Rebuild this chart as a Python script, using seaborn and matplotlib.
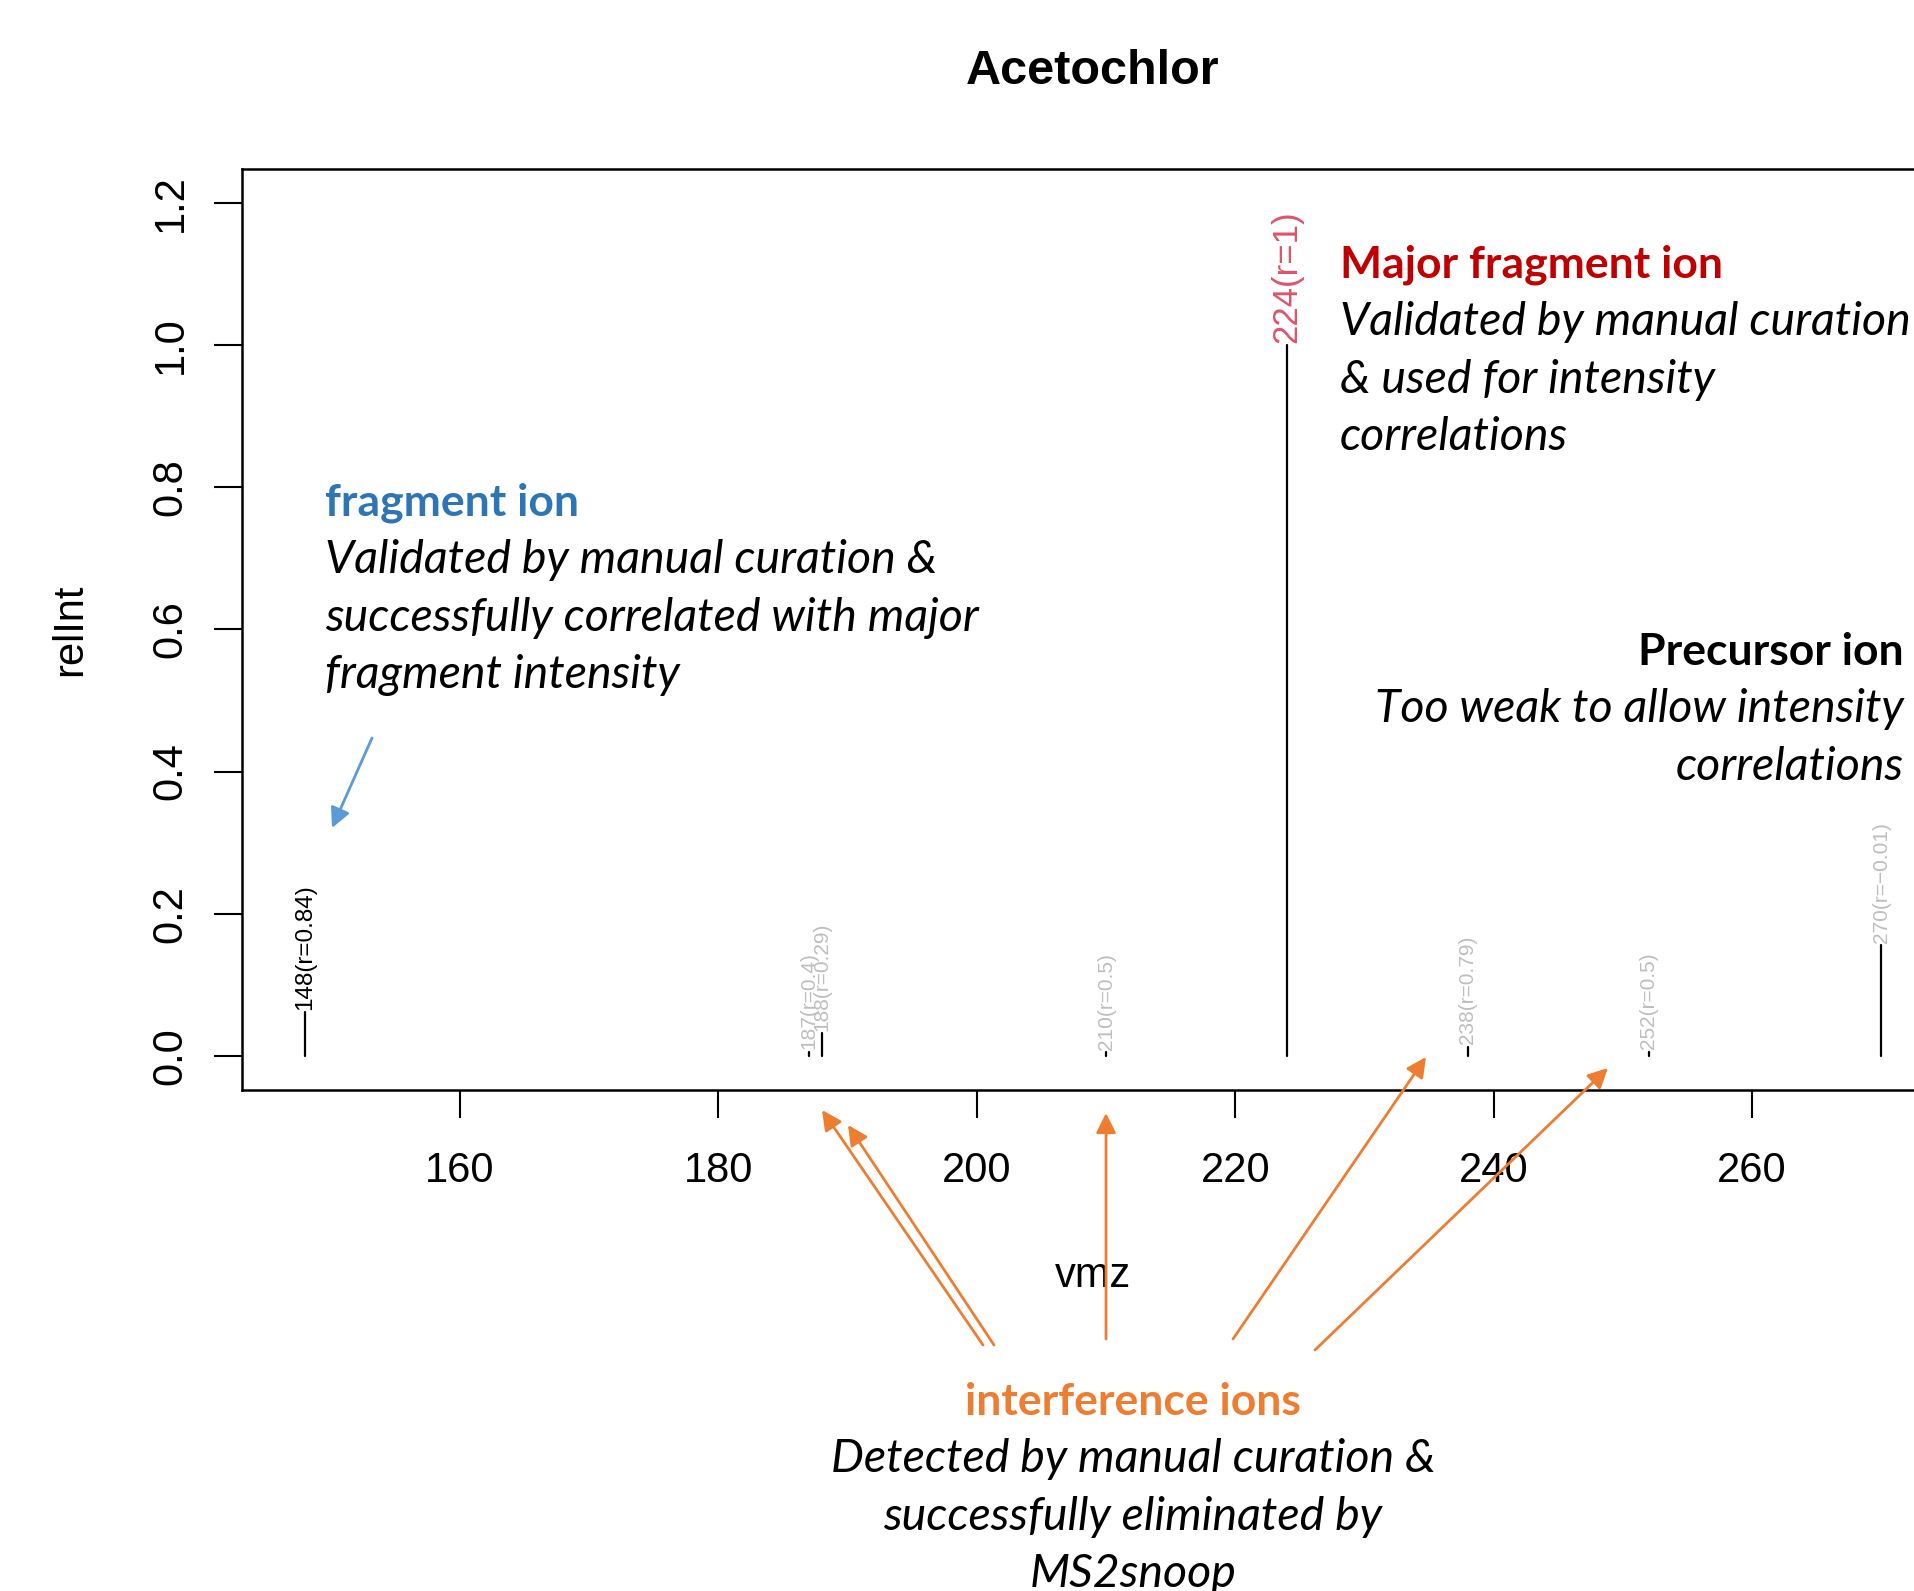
import matplotlib
matplotlib.use("Agg")
import pandas as pd
import matplotlib.pyplot as plt
import seaborn as sns

# MS2 peaks for Acetochlor (m/z, relative intensity, correlation with major fragment)
mz = [148, 187, 188, 210, 224, 238, 252, 270]
rel_int = [0.062, 0.006, 0.032, 0.005, 1.0, 0.013, 0.006, 0.156]
corr = ['0.84', '0.4', '0.29', '0.5', '1', '0.79', '0.5', '\u22120.01']
role = ['fragment', 'interference', 'interference', 'interference',
        'major', 'interference', 'interference', 'precursor']

x_ticks = [160, 180, 200, 220, 240, 260]
y_ticks = [0.0, 0.2, 0.4, 0.6, 0.8, 1.0, 1.2]

label_color = {'fragment': 'black', 'major': '#DF536B',
               'interference': '#BEBEBE', 'precursor': '#BEBEBE'}
label_size = {'fragment': 17.5, 'major': 25, 'interference': 15, 'precursor': 15}

# long table: each peak is a stick from 0 up to its intensity
rows = []
for i, (m, h) in enumerate(zip(mz, rel_int)):
    rows.append({'peak': i, 'mz': m, 'relInt': 0.0})
    rows.append({'peak': i, 'mz': m, 'relInt': h})
df = pd.DataFrame(rows)

sns.set_style('ticks')
plt.rcParams['font.family'] = ['Liberation Sans', 'DejaVu Sans']
plt.rcParams['axes.edgecolor'] = 'black'
plt.rcParams['axes.labelcolor'] = 'black'
plt.rcParams['text.color'] = 'black'
plt.rcParams['xtick.color'] = 'black'
plt.rcParams['ytick.color'] = 'black'

W, H = 1914, 1591
fig = plt.figure(figsize=(W / 100, H / 100), dpi=100)
ax = fig.add_axes([0.1264, 0.3149, 0.8895, 0.5791])

sns.lineplot(data=df, x='mz', y='relInt', units='peak', estimator=None,
             sort=False, color='black', linewidth=1.6, ax=ax)

for m, h, r, ro in zip(mz, rel_int, corr, role):
    ax.text(m, h + 0.003, f'{m}(r={r})', rotation=90, ha='center', va='bottom',
            color=label_color[ro], fontsize=label_size[ro])

ax.set_xlim(143.12, 274.88)
ax.set_ylim(-0.048, 1.248)
ax.set_xticks(x_ticks)
ax.set_yticks(y_ticks)
ax.set_yticklabels([f'{v:.1f}' for v in y_ticks], rotation=90, va='center')
ax.tick_params(length=20, width=1.5, labelsize=30)
ax.tick_params(axis='x', pad=24)
ax.tick_params(axis='y', pad=17)
for sp in ax.spines.values():
    sp.set_linewidth(1.8)
    sp.set_visible(True)

ax.set_xlabel('vmz', fontsize=30, va='center')
ax.xaxis.set_label_coords(0.5, -0.202)
ax.set_ylabel('relInt', fontsize=30, va='center')
ax.yaxis.set_label_coords(-0.101, 0.5)

fig.text(1093 / W, 1 - 72 / H, 'Acetochlor', ha='center', va='center',
         fontsize=35, fontweight='bold')


def note(lines, x, y0, ha, head_color):
    for k, line in enumerate(lines):
        head = k == 0
        fig.text(x / W, 1 - (y0 + k * 57.4) / H, line, ha=ha, va='center',
                 fontsize=32 if head else 33.5, family='Lato',
                 weight='bold' if head else 'normal',
                 style='normal' if head else 'italic',
                 color=head_color if head else 'black')


note(['fragment ion', 'Validated by manual curation &',
      'successfully correlated with major', 'fragment intensity'],
     325, 503, 'left', '#2E75B6')
note(['Major fragment ion', 'Validated by manual curation',
      '& used for intensity', 'correlations'],
     1340, 265, 'left', '#C00000')
note(['Precursor ion', 'Too weak to allow intensity', 'correlations'],
     1904, 652, 'right', 'black')
note(['interference ions', 'Detected by manual curation &',
      'successfully eliminated by', 'MS2snoop'],
     1133, 1402, 'center', '#ED7D31')

# callout arrows (tail, head) in image pixels, origin top-left
arrows = [((372, 738), (332, 828), '#5B9BD5'),
          ((983, 1345), (822, 1110), '#ED7D31'),
          ((994, 1345), (848, 1125), '#ED7D31'),
          ((1106, 1339), (1106, 1113), '#ED7D31'),
          ((1233, 1339), (1426, 1057), '#ED7D31'),
          ((1315, 1350), (1608, 1068), '#ED7D31')]
for (tx, ty), (hx, hy), c in arrows:
    ax.annotate('', xy=(hx, H - hy), xytext=(tx, H - ty),
                xycoords='figure pixels', textcoords='figure pixels',
                arrowprops=dict(arrowstyle='-|>', color=c, lw=2,
                                mutation_scale=30, shrinkA=0, shrinkB=0),
                annotation_clip=False)

fig.savefig('out.png', dpi=100)
